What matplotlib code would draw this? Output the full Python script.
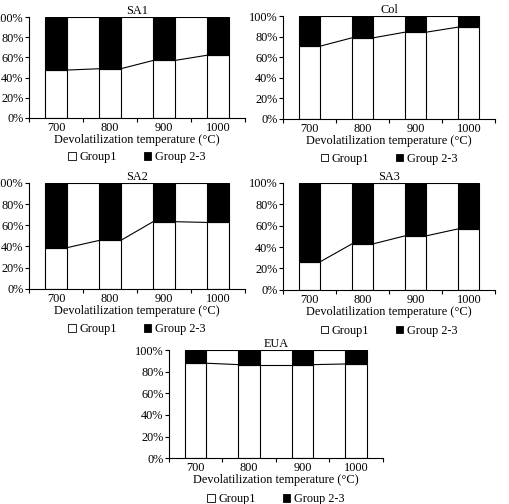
import matplotlib
matplotlib.use("Agg")
import matplotlib.pyplot as plt
from matplotlib.patches import Patch
from matplotlib.ticker import FuncFormatter

plt.rcParams['font.family'] = ['Liberation Serif', 'DejaVu Serif']

temps = ["700", "800", "900", "1000"]
samples = ["SA1", "Col", "SA2", "SA3", "EUA"]
# Group1 share (%) per temperature; Group 2-3 is the rest
group1_sa1 = [47.5, 48.8, 57.0, 62.2]
group1_col = [70.8, 78.9, 84.4, 89.3]
group1_sa2 = [38.8, 45.7, 63.4, 62.7]
group1_sa3 = [26.2, 43.0, 50.5, 57.0]
group1_eua = [88.0, 86.7, 86.7, 87.3]
group1 = [group1_sa1, group1_col, group1_sa2, group1_sa3, group1_eua]

# axes boxes in figure fractions
boxes = [
    [0.057, 0.766, 0.424, 0.200],
    [0.556, 0.764, 0.417, 0.204],
    [0.057, 0.427, 0.424, 0.210],
    [0.556, 0.425, 0.417, 0.212],
    [0.332, 0.091, 0.420, 0.214],
]

fs = 8.8
width = 0.4
lw = 0.8

fig = plt.figure(figsize=(5.09, 5.04), dpi=100)

for name, g1, box in zip(samples, group1, boxes):
    ax = fig.add_axes(box)
    x = list(range(len(temps)))
    g23 = [100 - v for v in g1]
    ax.bar(x, g1, width=width, color="white", edgecolor="black", linewidth=lw, label="Group1")
    ax.bar(x, g23, width=width, bottom=g1, color="black", edgecolor="black", linewidth=lw, label="Group 2-3")
    # series lines between bars
    for i in range(len(x) - 1):
        xa = x[i] + width / 2
        xb = x[i + 1] - width / 2
        ax.plot([xa, xb], [g1[i], g1[i + 1]], color="black", lw=lw)
        ax.plot([xa, xb], [100, 100], color="black", lw=lw)
    ax.set_xlim(-0.5, len(temps) - 0.5)
    ax.set_ylim(0, 100)
    ax.set_yticks([0, 20, 40, 60, 80, 100])
    ax.yaxis.set_major_formatter(FuncFormatter(lambda v, p: f"{int(v)}%"))
    ax.set_xticks(x)
    ax.set_xticklabels(temps)
    ax.set_xticks([i - 0.5 for i in range(len(temps) + 1)], minor=True)
    ax.tick_params(axis="x", which="major", length=0, labelsize=fs, pad=3)
    ax.tick_params(axis="x", which="minor", length=3, width=lw, direction="out")
    ax.tick_params(axis="y", length=3, width=lw, labelsize=fs, pad=1)
    for s in ["top", "right"]:
        ax.spines[s].set_visible(False)
    for s in ["left", "bottom"]:
        ax.spines[s].set_linewidth(lw)
    ax.set_xlabel("Devolatilization temperature (°C)", fontsize=fs, labelpad=0)
    ax.set_title(name, fontsize=fs, pad=1)
    handles = [Patch(facecolor="white", edgecolor="black", linewidth=0.6),
               Patch(facecolor="black", edgecolor="black", linewidth=0.6)]
    ax.legend(handles, ["Group1", "Group 2-3"], loc="upper center",
              bbox_to_anchor=(0.5, -0.27), ncol=2, frameon=False, fontsize=fs,
              handlelength=0.6, handleheight=0.6, handletextpad=0.3,
              columnspacing=2.2, borderpad=0)

fig.savefig("out.png", dpi=100)
